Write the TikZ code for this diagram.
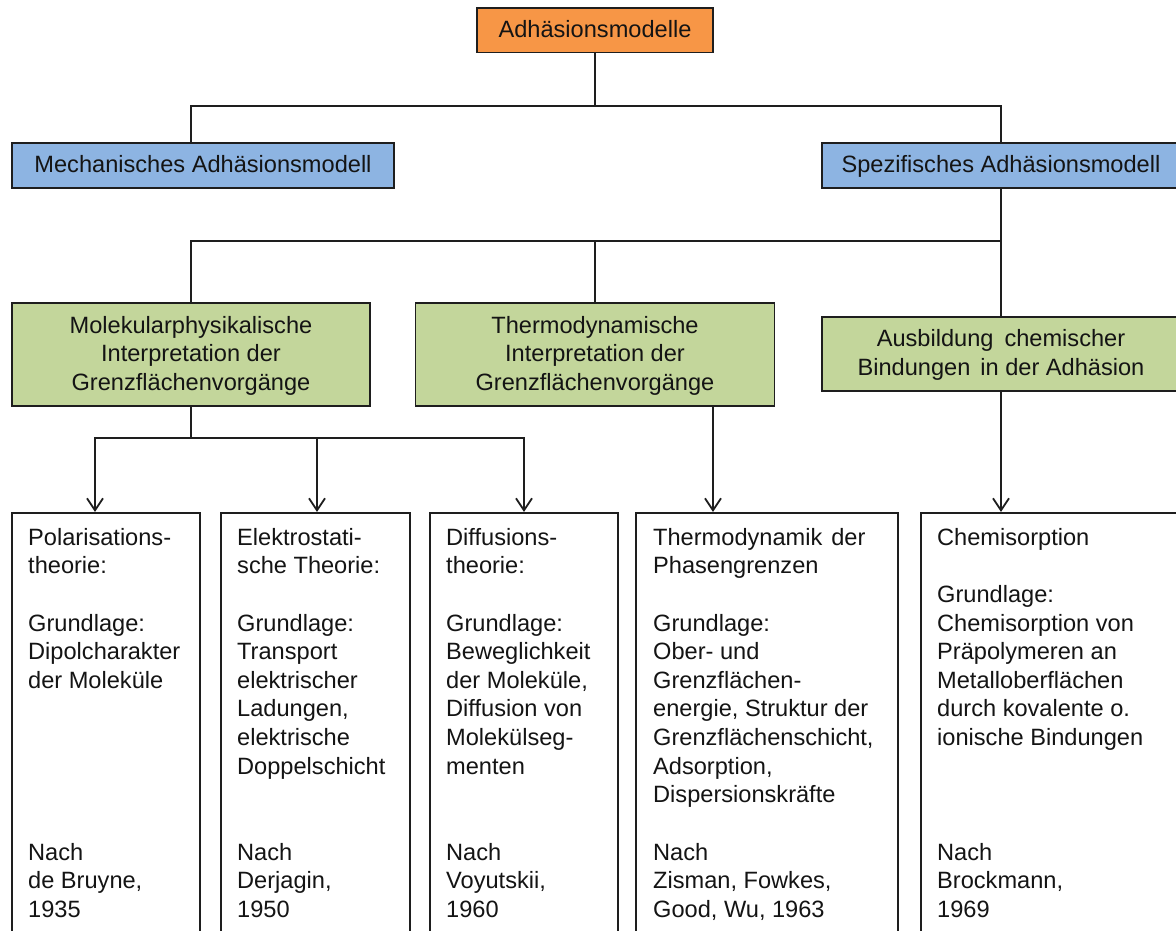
\documentclass[tikz,border=0pt]{standalone}
\usepackage{fontspec}
\setmainfont{Liberation Sans}[Ligatures=CommonOff]
\usetikzlibrary{arrows.meta,calc}
\definecolor{orangebox}{HTML}{F79646}
\definecolor{bluebox}{HTML}{8DB4E2}
\definecolor{greenbox}{HTML}{C3D69B}
\definecolor{linecol}{HTML}{1E1E1E}
\definecolor{txtcol}{HTML}{141414}
\begin{document}
\begin{tikzpicture}[x=1pt,y=-1pt,
  every node/.style={font=\fontsize{23.6}{28.6}\selectfont, text=txtcol},
  box/.style={draw=linecol, line width=1.8pt, inner sep=0pt, rectangle},
  onebox/.style={box, text height=17pt, text depth=3pt, minimum height=45pt},
  grbox/.style={box, fill=greenbox, align=center, minimum width=358pt},
  colbox/.style={box, fill=white, minimum height=437pt},
  txt/.style={align=left, inner sep=0pt, anchor=north west},
  conn/.style={draw=linecol, line width=1.8pt},
  arr/.style={conn, -{Straight Barb[length=12pt,width=16pt,line width=1.8pt]}}]
\path[use as bounding box, clip] (0,0) rectangle (1176,930);
\fill[white] (0,0) rectangle (1176,930);

% level 0
\node[onebox, fill=orangebox, minimum width=236pt, minimum height=44.5pt] (top) at (595,30.2) {Adhäsionsmodelle};
% level 1
\node[onebox, fill=bluebox, minimum width=382pt] (blL) at (203,165.8) {Mechanisches Adhäsionsmodell};
\node[onebox, fill=bluebox, minimum width=358pt] (blR) at (1001,165.8) {Spezifisches Adhäsionsmodell};
% level 2
\node[grbox, minimum height=102.7pt] (grL) at (191,354.3) {\rule{0pt}{20pt}Molekularphysikalische\\Interpretation der\\Grenzflächenvorgänge};
\node[grbox, minimum width=359pt, minimum height=102.7pt] (grM) at (595,354.3) {\rule{0pt}{20pt}Thermodynamische\\Interpretation der\\Grenzflächenvorgänge};
\node[grbox, minimum height=74pt] (grR) at (1001,353.7) {\rule{0pt}{20pt}Ausbildung\hspace{11pt}chemischer\\Bindungen\hspace{10pt}in der Adhäsion};
% level 3
\node[colbox, minimum width=188pt] (b1) at (106,731.3) {};
\node[colbox, minimum width=189pt] (b2) at (315.5,731.3) {};
\node[colbox, minimum width=188pt] (b3) at (524,731.3) {};
\node[colbox, minimum width=262pt] (b4) at (767,731.3) {};
\node[colbox, minimum width=260pt] (b5) at (1051,731.3) {};

% texts in the columns
\node[txt] (b1t) at (28,523) {\rule{0pt}{22pt}Polarisations-\\theorie:\\[28.6pt]Grundlage:\\Dipolcharakter\\der Moleküle};
\node[txt] (b2t) at (237,523) {\rule{0pt}{22pt}Elektrostati-\\sche Theorie:\\[28.6pt]Grundlage:\\Transport\\elektrischer\\Ladungen,\\elektrische\\Doppelschicht};
\node[txt] (b3t) at (446,523) {\rule{0pt}{22pt}Diffusions-\\theorie:\\[28.6pt]Grundlage:\\Beweglichkeit\\der Moleküle,\\Diffusion von\\Molekülseg-\\menten};
\node[txt] (b4t) at (653,523) {\rule{0pt}{22pt}Thermodynamik\hspace{9pt}der\\Phasengrenzen\\[28.6pt]Grundlage:\\Ober- und\\Grenzflächen-\\energie, Struktur der\\Grenzflächenschicht,\\Adsorption,\\Dispersionskräfte};
\node[txt] (b5t) at (937,523) {\rule{0pt}{22pt}Chemisorption\\[28.6pt]Grundlage:\\Chemisorption von\\Präpolymeren an\\Metalloberflächen\\durch kovalente o.\\ionische Bindungen};

\node[txt] (b1n) at (28,838) {\rule{0pt}{22pt}Nach\\de Bruyne,\\1935};
\node[txt] (b2n) at (237,838) {\rule{0pt}{22pt}Nach\\Derjagin,\\1950};
\node[txt] (b3n) at (446,838) {\rule{0pt}{22pt}Nach\\Voyutskii,\\1960};
\node[txt] (b4n) at (653,838) {\rule{0pt}{22pt}Nach\\Zisman, Fowkes,\\Good, Wu, 1963};
\node[txt] (b5n) at (937,838) {\rule{0pt}{22pt}Nach\\Brockmann,\\1969};

% connectors
\coordinate (j1) at (595,106);
\coordinate (j2) at (1001,241.3);
\coordinate (j3) at (191,438.3);
\draw[conn] (top.south) -- (j1);
\draw[conn] (j1) -| ([xshift=-12pt]blL.north);
\draw[conn] (j1) -| (blR.north);
\draw[conn] (blR.south) -- (grR.north);
\draw[conn] (j2) -| (grL.north);
\draw[conn] (grM.north) -- (grM.north |- j2);
\draw[conn] (grL.south) -- (j3);
\draw[arr] (j3) -| ([xshift=-11pt]b1.north);
\draw[arr] (j3) -| ([xshift=1.5pt]b2.north);
\draw[arr] (j3) -| (b3.north);
\draw[arr] ([xshift=118pt]grM.south) -- ([xshift=118pt]grM.south |- b4.north);
\draw[arr] (grR.south) -- (grR.south |- b5.north);
\end{tikzpicture}
\end{document}
